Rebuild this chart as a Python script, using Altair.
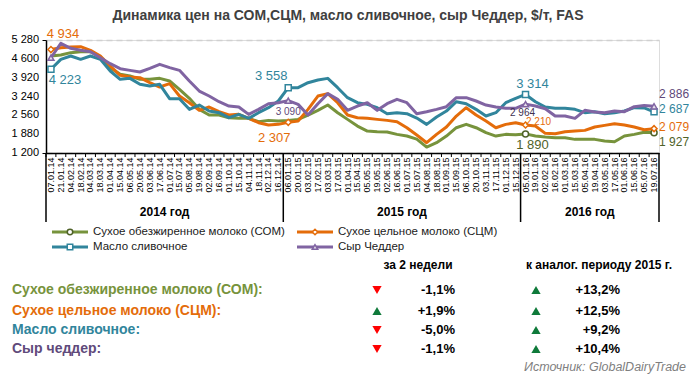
import altair as alt
import pandas as pd

# ---------------- data ----------------
dates_2014 = ["07.01.14", "21.01.14", "04.02.14", "18.02.14", "04.03.14", "18.03.14",
              "01.04.14", "15.04.14", "06.05.14", "20.05.14", "03.06.14", "17.06.14",
              "01.07.14", "15.07.14", "05.08.14", "19.08.14", "02.09.14", "16.09.14",
              "01.10.14", "15.10.14", "04.11.14", "18.11.14", "02.12.14", "16.12.14"]
dates_2015 = ["06.01.15", "20.01.15", "03.02.15", "17.02.15", "03.03.15", "17.03.15",
              "01.04.15", "15.04.15", "05.05.15", "19.05.15", "02.06.15", "16.06.15",
              "01.07.15", "15.07.15", "04.08.15", "18.08.15", "01.09.15", "15.09.15",
              "06.10.15", "20.10.15", "03.11.15", "17.11.15", "01.12.15", "15.12.15"]
dates_2016 = ["05.01.16", "19.01.16", "02.02.16", "16.02.16", "01.03.16", "15.03.16",
              "05.04.16", "19.04.16", "03.05.16", "17.05.16", "01.06.16", "15.06.16",
              "05.07.16", "19.07.16"]
dates = dates_2014 + dates_2015 + dates_2016

som = [4700, 4738, 4823, 4859, 4859, 4666, 4281, 4040, 3980, 3859, 3859, 3895,
       3799, 3498, 3173, 2776, 2571, 2571, 2475, 2451, 2451, 2330, 2378, 2354,
       2378, 2414, 2571, 2740, 2932, 2655, 2414, 2173, 1993, 1969, 1957, 1873,
       1812, 1702, 1415, 1572, 1812, 2113, 2234, 2113, 1933, 1812, 1873, 1860,
       1890, 1812, 1776, 1752, 1752, 1692, 1692, 1692, 1632, 1608, 1812, 1873,
       1948, 1927]
scm = [4934, 5003, 5027, 5039, 4907, 4702, 4341, 4004, 3944, 3919, 3739, 3582,
       3703, 3257, 3016, 2740, 2860, 2691, 2571, 2595, 2451, 2294, 2210, 2234,
       2307, 2354, 2776, 3257, 3342, 3016, 2571, 2475, 2451, 2414, 2378, 2330,
       2113, 1848, 1572, 1873, 2138, 2535, 2836, 2571, 2354, 2113, 2234, 2294,
       2210, 2174, 1909, 1897, 1969, 1993, 2017, 2138, 2198, 2258, 2210, 2138,
       2040, 2079]
butter = [4223, 4582, 4702, 4582, 4702, 4582, 4160, 3859, 3895, 3679, 3619, 3679,
          3161, 3161, 2776, 2932, 2716, 2655, 2475, 2595, 2451, 2655, 2836, 3077,
          3558, 3560, 3739, 3835, 3895, 3558, 3197, 3016, 2956, 2836, 2619, 2655,
          2619, 2461, 2234, 2499, 2715, 3052, 2980, 2776, 2535, 2655, 3016, 3173,
          3314, 3052, 2860, 2812, 2812, 2776, 2655, 2691, 2619, 2655, 2715, 2836,
          2828, 2687]
cheddar = [4640, 5160, 4979, 4907, 4859, 4640, 4425, 4245, 4184, 4124, 4257, 4401,
           4281, 4184, 3799, 3437, 3257, 3052, 2896, 2860, 2595, 2776, 2980, 3016,
           3090, 2956, 2571, 2980, 3342, 3137, 2740, 2896, 3016, 2740, 2980, 3137,
           3016, 2619, 2691, 2776, 2872, 3197, 3197, 3077, 2932, 2860, 2812, 2812,
           2964, 2896, 2800, 2535, 2535, 2451, 2740, 2679, 2655, 2715, 2691, 2872,
           2918, 2886]

series_names = ["Сухое обезжиренное молоко (СОМ)", "Сухое цельное молоко (СЦМ)",
                "Масло сливочное", "Сыр Чеддер"]
series_values = [som, scm, butter, cheddar]

y_ticks = [1200, 1880, 2560, 3240, 3920, 4600, 5280]
year_labels = ["2014 год", "2015 год", "2016 год"]

title_text = "Динамика цен на СОМ,СЦМ, масло сливочное, сыр Чеддер, $/т, FAS"
table_labels = ["Сухое обезжиренное молоко (СОМ):", "Сухое цельное молоко (СЦМ):",
                "Масло сливочное:", "Сыр чеддер:"]
table_headers = ["за 2 недели", "к аналог. периоду 2015 г."]
change_2w = [-1.1, 1.9, -5.0, -1.1]
change_yoy = [13.2, 12.5, 9.2, 10.4]
source_text = "Источник:  GlobalDairyTrade"

# ---------------- styles ----------------
FONT = "Liberation Sans"
line_colors = ["#77933c", "#e46c0a", "#31859c", "#8064a2"]
marker_strokes = ["#4f6228", "#e46c0a", "#31859c", "#8064a2"]
marker_fills = ["white", "white", "white", "#e6e0ec"]
marker_shapes = ["circle", "diamond", "square", "triangle-up"]
label_colors = ["#77933c", "#e46c0a", "#31859c", "#604a7b"]

W, H = 613, 113


def fmt(v):
    return f"{v:,}".replace(",", " ")


rows = []
for s, vals in zip(series_names, series_values):
    for i, (d, v) in enumerate(zip(dates, vals)):
        rows.append({"date": d, "idx": i, "value": v, "series": s})
df = pd.DataFrame(rows)

xband = alt.Scale(type="band", paddingInner=0, paddingOuter=0)
yscale = alt.Scale(domain=[1200, 5280], nice=False, zero=False)

base_x = alt.X("date:N", sort=dates, scale=xband,
               axis=alt.Axis(title=None, labelAngle=270, labelFontSize=9, labelFont=FONT,
                             labelColor="black", ticks=False, domainColor="black",
                             domainWidth=1.5, grid=False, labelPadding=4,
                             labelOverlap=False))
base_y = alt.Y("value:Q", scale=yscale,
               axis=alt.Axis(title=None, values=y_ticks, labels=False,
                             grid=True, gridDash=[6, 4], gridColor="#d0d0d0", gridWidth=1.5,
                             domainColor="black", domainWidth=1.5, tickColor="black",
                             tickSize=4))

color_scale = alt.Scale(domain=series_names, range=line_colors)

lines = alt.Chart(df).mark_line(strokeWidth=3, strokeJoin="round").encode(
    x=base_x, y=base_y,
    color=alt.Color("series:N", scale=color_scale, legend=None),
    order=alt.Order("idx:Q"),
    detail="series:N",
)

# y tick labels (with space as thousands separator)
ylab_df = pd.DataFrame({"value": y_ticks, "label": [fmt(v) for v in y_ticks]})
ylabels = alt.Chart(ylab_df).mark_text(font=FONT, fontSize=11, color="black", align="right",
                                       baseline="middle").encode(
    x=alt.value(-7), y=alt.Y("value:Q", scale=yscale), text="label:N")

marker_idx = {0: [1, 2, 3], 24: [1, 2, 3], 48: [0, 1, 2, 3], 61: [0, 1, 2, 3]}
mrows = []
for i, sidx in marker_idx.items():
    for k in sidx:
        mrows.append({"date": dates[i], "value": series_values[k][i], "series": series_names[k]})
mdf = pd.DataFrame(mrows)
markers = alt.Chart(mdf).mark_point(filled=True, size=36, strokeWidth=1.5, opacity=1).encode(
    x=alt.X("date:N", sort=dates, scale=xband),
    y=alt.Y("value:Q", scale=yscale),
    shape=alt.Shape("series:N", scale=alt.Scale(domain=series_names, range=marker_shapes), legend=None),
    stroke=alt.Stroke("series:N", scale=alt.Scale(domain=series_names, range=marker_strokes), legend=None),
    fill=alt.Fill("series:N", scale=alt.Scale(domain=series_names, range=marker_fills), legend=None),
)

# ticks between categories and year separators
dates_df = pd.DataFrame({"date": dates})
ticks = alt.Chart(dates_df).mark_rule(color="black", strokeWidth=1).encode(
    x=alt.X("date:N", sort=dates, scale=xband, bandPosition=0),
    y=alt.value(H), y2=alt.value(H + 4))
end_df = pd.DataFrame({"date": [dates[-1]]})
end_tick = alt.Chart(end_df).mark_rule(color="black", strokeWidth=1.5).encode(
    x=alt.X("date:N", sort=dates, scale=xband, bandPosition=1),
    y=alt.value(H), y2=alt.value(H + 69))
sep_df = pd.DataFrame({"date": [dates_2014[0], dates_2015[0], dates_2016[0]]})
seps = alt.Chart(sep_df).mark_rule(color="black", strokeWidth=1.5).encode(
    x=alt.X("date:N", sort=dates, scale=xband, bandPosition=0),
    y=alt.value(H), y2=alt.value(H + 69))

# year labels, centred on each year's group
year_groups = [dates_2014, dates_2015, dates_2016]
ydf = pd.DataFrame({"date": [g[len(g) // 2] for g in year_groups], "label": year_labels})
years = alt.Chart(ydf).mark_text(font=FONT, fontSize=12, fontWeight="bold", color="black").encode(
    x=alt.X("date:N", sort=dates, scale=xband, bandPosition=0),
    y=alt.value(H + 59), text="label:N")

ann_specs = [  # (series index, point index, dx, dy, size, color, align)
    (1, 0, 12, -16, 13, "#e46c0a", "center"),
    (2, 0, 14, 11, 13, "#31859c", "center"),
    (2, 24, -17, -12, 13, "#31859c", "center"),
    (3, 24, 0, 11, 10, "#5f497a", "center"),
    (1, 24, -14, 16, 13, "#e46c0a", "center"),
    (2, 48, 7, -10, 13, "#31859c", "center"),
    (3, 48, -3, 9, 10, "#403151", "center"),
    (1, 48, 13, -3, 10, "#e46c0a", "center"),
    (0, 48, 7, 11, 13, "#4f6228", "center"),
    (3, 61, 5, -12, 12, "#5f497a", "left"),
    (2, 61, 5, -3, 12, "#31859c", "left"),
    (1, 61, 5, -2, 12, "#e46c0a", "left"),
    (0, 61, 5, 9, 12, "#4f6228", "left"),
]
anns = []
for k, i, dx, dy, sz, col, al in ann_specs:
    adf = pd.DataFrame({"date": [dates[i]], "value": [series_values[k][i]],
                        "label": [fmt(series_values[k][i])]})
    anns.append(alt.Chart(adf).mark_text(font=FONT, fontSize=sz, color=col, dx=dx, dy=dy,
                                         align=al, baseline="middle").encode(
        x=alt.X("date:N", sort=dates, scale=xband),
        y=alt.Y("value:Q", scale=yscale), text="label:N"))

OX, OY = 46, 40  # page position of plot origin
def px(x):
    return x - OX
def py(y):
    return y - OY

title = alt.Chart(pd.DataFrame({"t": [title_text]})).mark_text(
    font=FONT, fontSize=14, fontWeight="bold", color="#404040", align="center",
    baseline="middle").encode(x=alt.value(px(348)), y=alt.value(py(16)), text="t:N")

# legend
legend_layers = []
leg_pos = [(52, 232), (297, 232), (52, 247), (297, 247)]
for k, (lx, ly) in enumerate(leg_pos):
    name_df = pd.DataFrame({"t": [series_names[k]]})
    legend_layers.append(alt.Chart(name_df).mark_rule(color=line_colors[k], strokeWidth=3).encode(
        x=alt.value(px(lx)), x2=alt.value(px(lx + 36)), y=alt.value(py(ly))))
    legend_layers.append(alt.Chart(name_df).mark_point(
        shape=marker_shapes[k], filled=True, fill=marker_fills[k], stroke=marker_strokes[k],
        strokeWidth=1.5, size=30, opacity=1).encode(
        x=alt.value(px(lx + 18)), y=alt.value(py(ly))))
    legend_layers.append(alt.Chart(name_df).mark_text(
        font=FONT, fontSize=11.5, color="#1a1a1a", align="left", baseline="middle").encode(
        x=alt.value(px(lx + 41)), y=alt.value(py(ly)), text="t:N"))

# table
table_layers = []
hdr_x = [418, 599]
for hx, h in zip(hdr_x, table_headers):
    table_layers.append(alt.Chart(pd.DataFrame({"t": [h]})).mark_text(
        font=FONT, fontSize=12, fontWeight="bold", color="black", align="center",
        baseline="middle").encode(x=alt.value(px(hx)), y=alt.value(py(265)), text="t:N"))


def pct(v):
    return f"{v:+.1f}%".replace(".", ",")


row_y = [290, 311, 330, 349]
for k, ry in enumerate(row_y):
    table_layers.append(alt.Chart(pd.DataFrame({"t": [table_labels[k]]})).mark_text(
        font=FONT, fontSize=14, fontWeight="bold", color=label_colors[k], align="left",
        baseline="middle").encode(x=alt.value(px(12)), y=alt.value(py(ry)), text="t:N"))
    for v, tx, vx in [(change_2w[k], 377, 455), (change_yoy[k], 536, 620)]:
        up = v > 0
        table_layers.append(alt.Chart(pd.DataFrame({"t": [pct(v)]})).mark_point(
            shape="triangle-up" if up else "triangle-down", filled=True,
            color="#0f7a3a" if up else "#ff0000", size=85, opacity=1).encode(
            x=alt.value(px(tx)), y=alt.value(py(ry))))
        table_layers.append(alt.Chart(pd.DataFrame({"t": [pct(v)]})).mark_text(
            font=FONT, fontSize=13, fontWeight="bold", color="black", align="right",
            baseline="middle").encode(x=alt.value(px(vx)), y=alt.value(py(ry)), text="t:N"))

source = alt.Chart(pd.DataFrame({"t": [source_text]})).mark_text(
    font=FONT, fontSize=12.5, fontStyle="italic", color="#7f7f7f", align="right",
    baseline="middle").encode(x=alt.value(px(686)), y=alt.value(py(367)), text="t:N")

chart = alt.layer(
    lines, ylabels, markers, ticks, end_tick, seps, years, *anns, title, *legend_layers,
    *table_layers, source
).properties(
    width=W, height=H,
    autosize=alt.AutoSizeParams(type="none"),
    padding={"left": 38, "top": 32, "right": 32, "bottom": 221},
).configure_view(stroke=None).configure(background="white")

chart.save("out.html", embed_options={"renderer": "svg", "actions": False})
